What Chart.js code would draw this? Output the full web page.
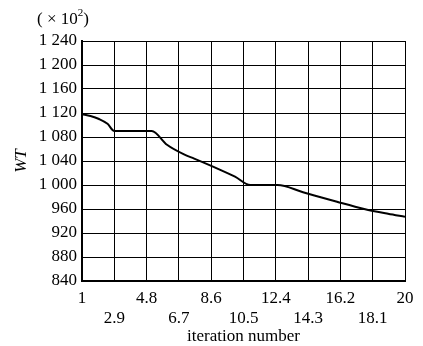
<!DOCTYPE html>
<html>
<head>
<meta charset="utf-8">
<script src="https://cdn.jsdelivr.net/npm/chart.js@4/dist/chart.umd.min.js"></script>
<style>
html,body{margin:0;padding:0;background:#fff;}
#wrap{width:423px;height:346px;position:relative;}
</style>
</head>
<body>
<div id="wrap"><canvas id="c" width="423" height="346"></canvas></div>
<script>
// Data
const iterX = [1, 1.5, 2, 2.5, 2.9, 5.1, 6, 7, 7.6, 9, 10, 10.9, 12.5, 14, 16, 17.6, 19, 20];
const wtValues = [1118, 1115, 1110, 1102, 1090, 1090, 1067, 1051, 1044, 1027, 1014, 1000, 1000, 988, 972, 960, 952, 947];
const xTickValues = [1, 2.9, 4.8, 6.7, 8.6, 10.5, 12.4, 14.3, 16.2, 18.1, 20];
const xTickLabels = ['1', '2.9', '4.8', '6.7', '8.6', '10.5', '12.4', '14.3', '16.2', '18.1', '20'];
const yTickValues = [840, 880, 920, 960, 1000, 1040, 1080, 1120, 1160, 1200, 1240];
const yUnitText = '( \u00d7 10';
const xTitle = 'iteration number';
const yTitle = 'WT';

const FONT = 'Liberation Serif';

function fmtY(v) {
  if (v >= 1000) return Math.floor(v / 1000) + ' ' + String(v % 1000).padStart(3, '0');
  return String(v);
}

const unitPlugin = {
  id: 'unitPlugin',
  afterDraw(chart) {
    const ctx = chart.ctx;
    ctx.save();
    ctx.fillStyle = '#000';
    ctx.textBaseline = 'alphabetic';
    ctx.font = '17px "' + FONT + '"';
    let x = 37, y = 24;
    ctx.fillText(yUnitText, x, y);
    x += ctx.measureText(yUnitText).width;
    ctx.font = '11px "' + FONT + '"';
    ctx.fillText('2', x, y - 8);
    x += ctx.measureText('2').width;
    ctx.font = '17px "' + FONT + '"';
    ctx.fillText(')', x, y);
    ctx.restore();
  }
};

new Chart(document.getElementById('c'), {
  type: 'line',
  data: {
    datasets: [{
      data: iterX.map((x, i) => ({x: x, y: wtValues[i]})),
      borderColor: '#000',
      borderWidth: 2,
      pointRadius: 0,
      cubicInterpolationMode: 'monotone',
      fill: false
    }]
  },
  options: {
    responsive: false,
    animation: false,
    layout: {padding: {top: 41, right: 18, left: 0, bottom: 0}},
    plugins: {legend: {display: false}, tooltip: {enabled: false}},
    scales: {
      x: {
        type: 'linear',
        min: 1, max: 20,
        afterBuildTicks(scale) { scale.ticks = xTickValues.map(v => ({value: v})); },
        afterFit(scale) { scale.height = 65; },
        grid: {color: '#000', lineWidth: 1, drawTicks: false},
        border: {color: '#000', width: 2},
        ticks: {
          autoSkip: false, maxRotation: 0, minRotation: 0, padding: 8,
          color: '#000',
          font: {family: FONT, size: 17, lineHeight: '20px'},
          callback(v, i) {
            const lbl = xTickLabels[i];
            return i % 2 === 0 ? [lbl] : ['', lbl];
          }
        },
        title: {display: true, text: xTitle, color: '#000', font: {family: FONT, size: 17, lineHeight: '18px'}, padding: {top: 0, bottom: 0}}
      },
      y: {
        type: 'linear',
        min: 840, max: 1240,
        afterBuildTicks(scale) { scale.ticks = yTickValues.map(v => ({value: v})); },
        afterFit(scale) { scale.width = 82; },
        grid: {color: '#000', lineWidth: 1, drawTicks: false},
        border: {color: '#000', width: 2},
        ticks: {
          padding: 5, color: '#000',
          font: {family: FONT, size: 17},
          callback(v) { return fmtY(v); }
        },
        title: {display: true, text: yTitle, color: '#000', font: {family: FONT, size: 17, style: 'italic', lineHeight: '18px'}, padding: {top: 13, bottom: 0}}
      }
    }
  },
  plugins: [unitPlugin]
});
</script>
</body>
</html>
